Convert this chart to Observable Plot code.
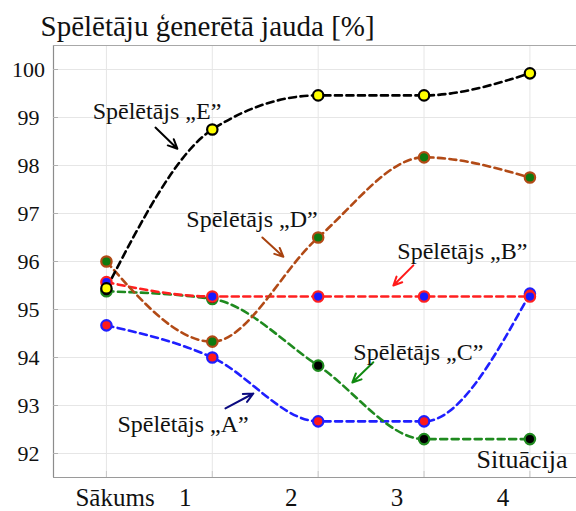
<!DOCTYPE html>
<html>
<head>
<meta charset="utf-8">
<script src="https://cdn.jsdelivr.net/npm/d3@7"></script>
<script src="https://cdn.jsdelivr.net/npm/@observablehq/plot@0.6"></script>
<style>
  html, body { margin: 0; padding: 0; background: #fff; overflow: hidden; }
  svg { display: block; }
</style>
</head>
<body>
<div id="chart"></div>
<script>
// ---- data ----
const categories = ["Sākums", "1", "2", "3", "4"];
const playerA = [94.67, 94.0, 92.67, 92.67, 95.33];
const playerB = [95.57, 95.27, 95.27, 95.27, 95.27];
const playerC = [95.38, 95.22, 93.83, 92.3, 92.3];
const playerD = [96.0, 94.33, 96.5, 98.17, 97.75];
const playerE = [95.44, 98.75, 99.46, 99.46, 99.92];
const yTicks = [92, 93, 94, 95, 96, 97, 98, 99, 100];

const titleText = "Spēlētāju ģenerētā jauda [%]";
const xTitleText = "Situācija";

// annotation labels (position in chart units)
const labelNames = ["Spēlētājs „E”", "Spēlētājs „D”", "Spēlētājs „B”", "Spēlētājs „C”", "Spēlētājs „A”"];
const labelX = [-0.13, 0.755, 2.748, 2.332, 0.104];
const labelY = [99.12, 96.87, 96.22, 94.10, 92.60];
// arrows
const arrowX1 = [0.463, 1.473, 2.899, 2.521, 1.124];
const arrowY1 = [98.79, 96.50, 95.92, 93.90, 92.94];
const arrowX2 = [0.670, 1.671, 2.710, 2.323, 1.388];
const arrowY2 = [98.35, 96.10, 95.50, 93.48, 93.25];

// ---- styles ----
const series = [
  {name: "A", values: playerA, line: "#1f1fff", fill: "#ff1a1a"},
  {name: "C", values: playerC, line: "#1f8a1f", fill: "#000000"},
  {name: "B", values: playerB, line: "#ff2020", fill: "#1a1aff"},
  {name: "D", values: playerD, line: "#b24a16", fill: "#0f7a0f"},
  {name: "E", values: playerE, line: "#000000", fill: "#ffff00"}
];
const arrowColors = ["#000000", "#a8420f", "#ff1a1a", "#108a10", "#0a0a80"];

const rows = series.flatMap(s => s.values.map((v, i) => ({i, v, name: s.name})));
const annotations = labelNames.map((t, k) => ({t, x: labelX[k], y: labelY[k]}));
const arrows = arrowX1.map((_, k) => ({x1: arrowX1[k], y1: arrowY1[k], x2: arrowX2[k], y2: arrowY2[k], c: arrowColors[k]}));
const xcats = categories.map((c, i) => ({c, i}));

const font = "'Liberation Serif', 'Times New Roman', serif";

const marks = [
  Plot.gridY(yTicks, {stroke: "#e6e6e6", strokeOpacity: 1}),
  Plot.gridX([0, 1, 2, 3, 4], {stroke: "#e6e6e6", strokeOpacity: 1}),
  Plot.ruleX([-0.5], {stroke: "#8c8c8c", strokeWidth: 1.2}),
  Plot.ruleY([100.5], {stroke: "#a8a8a8", strokeWidth: 1.2}),
  Plot.ruleY([91.5], {stroke: "#9a9a9a", strokeWidth: 1.2}),
  Plot.axisY(yTicks, {anchor: "left", tickSize: -5, stroke: "#b0b0b0", tickFormat: () => ""}),
  Plot.axisY(yTicks, {anchor: "left", tickSize: 0, tickPadding: 25, textAnchor: "middle",
    fontSize: 22, fontFamily: font, fill: "#111"}),
  Plot.axisX([0, 1, 2, 3, 4], {anchor: "bottom", tickSize: -6, stroke: "#c8c8c8", tickFormat: () => ""}),
];

for (const s of series) {
  const data = rows.filter(r => r.name === s.name);
  marks.push(Plot.line(data, {x: "i", y: "v", curve: "monotone-x", stroke: s.line,
    strokeWidth: 2.6, strokeDasharray: "7,4.5"}));
}
for (const s of series) {
  const data = rows.filter(r => r.name === s.name);
  marks.push(Plot.dot(data, {x: "i", y: "v", r: 5.2, fill: s.fill, stroke: s.line, strokeWidth: 2.2}));
}

marks.push(
  Plot.arrow(arrows, {x1: "x1", y1: "y1", x2: "x2", y2: "y2", stroke: "c", strokeWidth: 2, headLength: 11, headAngle: 50}),
  Plot.text(annotations, {x: "x", y: "y", text: "t", textAnchor: "start", lineAnchor: "middle",
    fontSize: 24, fontFamily: font, fill: "#111"}),
  Plot.text(xcats.filter(d => d.i > 0), {x: "i", text: "c", frameAnchor: "bottom", lineAnchor: "middle", dy: 20.5, dx: -27,
    fontSize: 25, fontFamily: font, fill: "#111"}),
  Plot.text(xcats.filter(d => d.i === 0), {x: "i", text: "c", frameAnchor: "bottom", lineAnchor: "middle", dy: 20.5, dx: -31,
    textAnchor: "start", fontSize: 25, fontFamily: font, fill: "#111"}),
  Plot.text([xTitleText], {frameAnchor: "bottom-right", textAnchor: "end", lineAnchor: "middle", dx: -9, dy: -18.3,
    fontSize: 26, fontFamily: font, fill: "#111"}),
  Plot.text([titleText], {frameAnchor: "top-left", textAnchor: "start", lineAnchor: "middle", dx: -13, dy: -18.3,
    fontSize: 29, fontFamily: font, fill: "#111"})
);

const chart = Plot.plot({
  width: 576,
  height: 511,
  marginLeft: 53,
  marginRight: 0,
  marginTop: 45,
  marginBottom: 34,
  x: {domain: [-0.5, 4.44], axis: null},
  y: {domain: [91.5, 100.5], axis: null},
  style: {background: "#fff", overflow: "visible", fontFamily: font},
  marks
});
document.getElementById("chart").appendChild(chart);
</script>
</body>
</html>
